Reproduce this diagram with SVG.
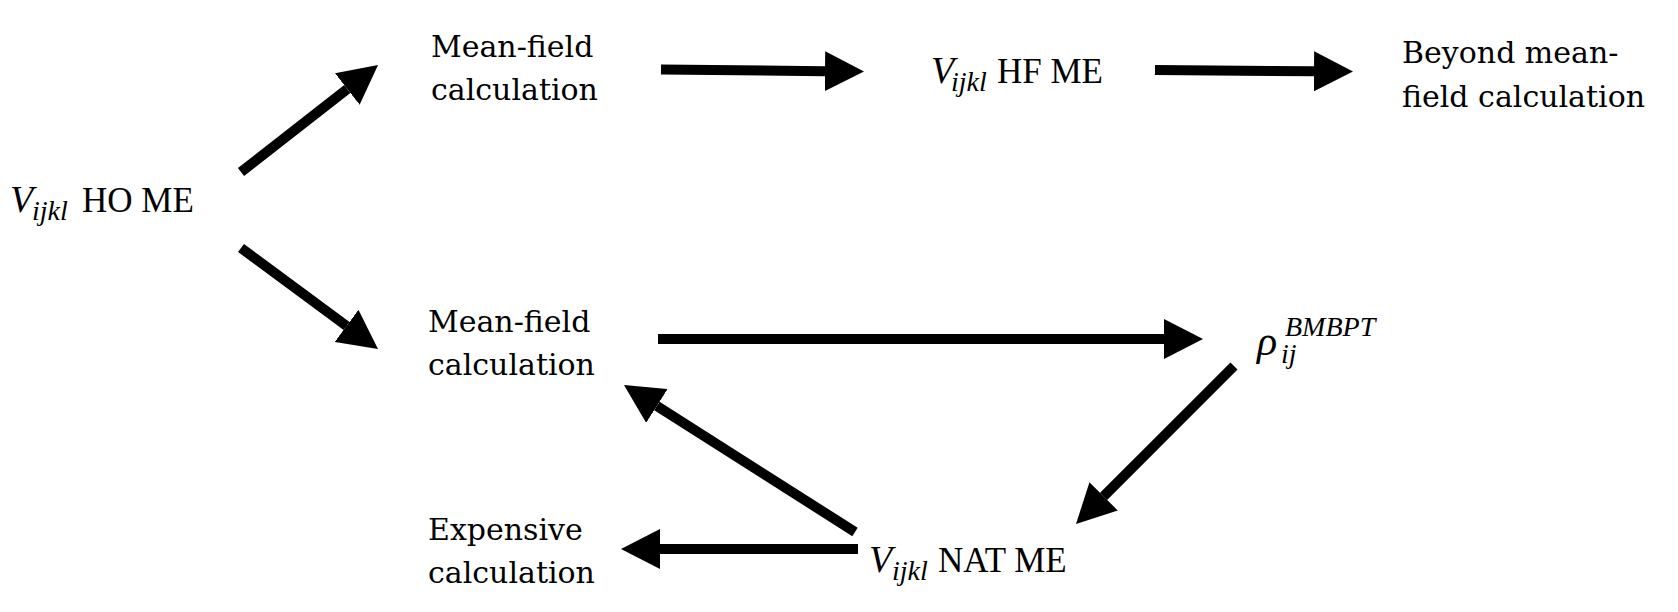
<svg xmlns="http://www.w3.org/2000/svg" width="1678" height="612" viewBox="0 0 1678 612">
<style>
.t{font-family:"DejaVu Serif",serif;font-size:30px;fill:#000}
.m{font-family:"Liberation Serif",serif;font-size:35px;fill:#000}
.i{font-style:italic}
.v{font-style:italic;font-size:38px}
.s{font-style:italic;font-size:28px}
.c{stroke:#000;stroke-width:10;fill:none;marker-end:url(#ah)}
</style>
<defs>
<marker id="ah" viewBox="0 0 39 40" markerWidth="3.9" markerHeight="4" refX="0" refY="20" orient="auto" markerUnits="strokeWidth">
<path d="M0,0 L39,20 L0,40 z" fill="#000"/>
</marker>
</defs>
<rect width="1678" height="612" fill="#fff"/>
<g id="connectors">
<path class="c" d="M241,172 L347.3,89"/>
<path class="c" d="M241,248 L346.6,325.9"/>
<path class="c" d="M661,69.5 L825,71.2"/>
<path class="c" d="M1155,70 L1314,71.3"/>
<path class="c" d="M658,339 L1164,339"/>
<path class="c" d="M1234,366 L1103.6,496.4"/>
<path class="c" d="M855,532 L656.9,406"/>
<path class="c" d="M858,549 L660,549"/>
</g>
<g id="ho">
<text class="m"><tspan class="v" x="10" y="212">V</tspan><tspan class="s" x="32" y="220">ijkl</tspan><tspan x="82" y="212">HO ME</tspan></text>
</g>
<g id="mf1">
<text class="t"><tspan x="431" y="57">Mean-field</tspan><tspan x="431" y="100">calculation</tspan></text>
</g>
<g id="hf">
<text class="m"><tspan class="v" x="931" y="83">V</tspan><tspan class="s" x="951" y="91">ijkl</tspan><tspan x="997" y="83">HF ME</tspan></text>
</g>
<g id="beyond">
<text class="t"><tspan x="1402" y="63">Beyond mean-</tspan><tspan x="1402" y="106.5">field calculation</tspan></text>
</g>
<g id="mf2">
<text class="t"><tspan x="428" y="332">Mean-field</tspan><tspan x="428" y="375">calculation</tspan></text>
</g>
<g id="rho">
<text class="m"><tspan class="i" x="1257" y="355" font-size="42">ρ</tspan><tspan class="i" x="1285" y="336" font-size="28">BMBPT</tspan><tspan class="s" x="1281" y="363">ij</tspan></text>
</g>
<g id="nat">
<text class="m"><tspan class="v" x="869" y="572">V</tspan><tspan class="s" x="892" y="580">ijkl</tspan><tspan x="938" y="572">NAT ME</tspan></text>
</g>
<g id="exp">
<text class="t"><tspan x="428" y="540">Expensive</tspan><tspan x="428" y="583">calculation</tspan></text>
</g>
</svg>
